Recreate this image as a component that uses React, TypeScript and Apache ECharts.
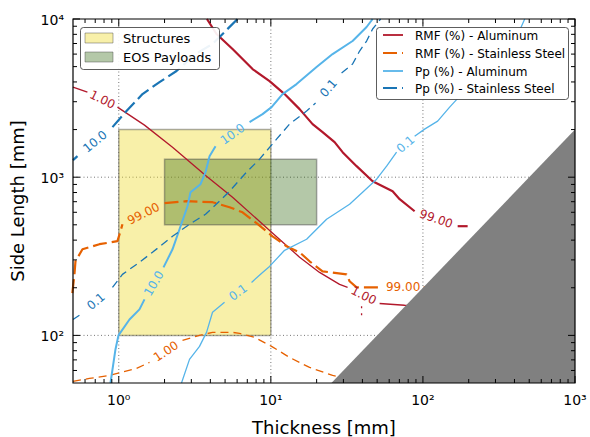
import React, { useEffect, useRef } from 'react';
import * as echarts from 'echarts';

// ---- Axes -------------------------------------------------------------
const thicknessRange = [0.5, 1000];
const sideLengthRange = [50, 10000];
const xDecades = [1, 10, 100, 1000];
const xDecadeLabels = ['10⁰', '10¹', '10²', '10³'];
const yDecades = [100, 1000, 10000];
const yDecadeLabels = ['10²', '10³', '10⁴'];
const minorMultiples = [2, 3, 4, 5, 6, 7, 8, 9];

// ---- Design envelopes: [thickness min, side min, thickness max, side max]
const structuresBox = [1, 100, 10, 2000];
const eosPayloadsBox = [2, 500, 20, 1300];

// Region where the side length is below twice the thickness
const infeasibleRegion = [[25, 50], [1000, 2000], [1000, 50]];

// ---- Contour lines [thickness mm, side length mm]; gaps hold the labels
const rmfAluminum1 = [
  [[0.5, 3712], [0.622, 3451]],
  [[0.98, 2773], [1.476, 2134], [2.256, 1548], [3.776, 1015], [5.598, 747], [10.11, 449],
   [15.45, 312], [20.91, 250], [28.31, 210], [31.96, 201]],
  [[51.9, 159], [75.8, 155], [95, 154]],
];
const rmfAluminum1Islets = [
  [[39.5, 152.6], [39.5, 148.2]],
  [[39.5, 137.8], [39.5, 134]],
];
const rmfAluminum99 = [
  [[3.8, 10000], [4.393, 8036], [5.598, 6458], [7.58, 4826], [9.804, 4052], [12.31, 3352],
   [15.45, 2694], [18.81, 2165], [21.88, 1927], [26.25, 1665], [29.63, 1439], [36.63, 1174],
   [46.69, 943], [63.2, 815], [70.3, 726], [88.2, 609]],
  [[169.2, 490], [196.8, 490]],
];
const rmfSteel1 = [
  [[0.5, 51.2], [0.641, 53.4], [0.869, 55.8], [1.307, 61.8], [1.592, 67.5]],
  [[2.625, 93], [3.396, 100], [4.135, 104.5], [5.598, 104.5], [6.226, 103], [7.813, 97.1],
   [10.11, 85.2], [13.27, 72.6], [17.97, 62.7], [25.47, 55.8], [30, 54]],
];
const rmfSteel99 = [
  [[0.495, 185], [0.511, 243], [0.519, 294], [0.577, 350], [0.746, 377], [0.98, 394],
   [1.026, 455], [1.057, 504]],
  [[1.999, 685], [2.789, 705], [4.135, 695], [5.35, 646], [6.514, 600], [8.053, 512],
   [10.26, 423], [12.69, 366], [15.45, 335], [17.97, 294], [21.88, 254], [31.48, 243],
   [32.94, 220], [36.63, 201], [54.3, 201]],
  [[101, 201], [139, 201]],
];
const ppAluminum01 = [
  [[2.585, 50], [2.918, 70.5], [3.396, 85.2], [3.776, 104.5], [4.135, 140], [4.96, 162]],
  [[7.465, 216], [8.818, 250], [9.804, 273], [12.31, 345], [17.18, 405], [23.25, 542],
   [32.94, 675], [40.11, 804], [49.59, 971], [57.7, 1174], [67.1, 1439]],
  [[88.2, 1817], [102.6, 2013], [125, 2262], [149.9, 2773], [179.7, 3352], [236, 3878],
   [334.5, 4826], [466.9, 10000]],
];
const ppAluminum10 = [
  [[0.882, 50], [0.951, 81.5], [0.995, 100], [1.176, 126], [1.368, 146], [1.476, 169]],
  [[1.968, 269], [2.256, 350], [2.508, 469], [2.831, 655], [2.963, 804], [3.448, 903],
   [3.719, 1076], [3.952, 1358], [4.327, 1571]],
  [[7.242, 2229], [8.818, 2505], [10.11, 2773], [11.94, 3352], [14.76, 3878], [19.98, 4969],
   [25.47, 6004], [34.47, 7258], [42.62, 8901], [46.69, 10000]],
];
const ppSteel01 = [
  [[0.5, 126], [0.551, 134]],
  [[0.909, 201], [1.057, 243], [1.368, 290], [1.666, 335], [2.256, 423], [2.918, 504],
   [3.719, 583], [4.598, 705], [5.35, 815], [6.92, 1076], [8.427, 1300], [10.9, 1740],
   [13.27, 2165], [17.18, 2617], [19.68, 2940]],
  [[29.18, 4551], [34.47, 5190], [38.33, 6273], [42.62, 7258], [46.69, 8643], [52.7, 10000]],
];
const ppSteel10 = [
  [[0.5, 1281], [0.535, 1358]],
  [[0.909, 2073], [1.124, 2617], [1.432, 3352], [1.853, 3993], [2.397, 4688], [3.196, 6004],
   [4.135, 6946], [5.035, 8397], [6.04, 10000]],
];

// ---- Styling ----------------------------------------------------------
const CRIMSON = '#B2182B';
const ORANGE = '#E66101';
const SKY = '#56B4E9';
const BLUE = '#1A75B5';
const YELLOW = 'rgba(238,218,40,0.4)';
const GREEN = 'rgba(35,94,0,0.34)';
const BOX_EDGE = 'rgba(70,70,70,0.45)';
const FONT = 'DejaVu Sans';
const THICK_DASH = [14, 5];
const THIN_DASH = [8, 5];
const THICK = 2.2;
const THIN = 1.3;

const contours = [
  { segments: rmfAluminum1, text: '1.00', color: CRIMSON, width: THIN, dash: 'solid' as any },
  { segments: rmfAluminum99, text: '99.00', color: CRIMSON, width: THICK, dash: 'solid' as any },
  { segments: rmfSteel1, text: '1.00', color: ORANGE, width: THIN, dash: THIN_DASH },
  { segments: rmfSteel99, text: '99.00', color: ORANGE, width: THICK, dash: THICK_DASH },
  { segments: ppAluminum01, text: '0.1', color: SKY, width: THIN, dash: 'solid' as any },
  { segments: ppAluminum10, text: '10.0', color: SKY, width: 2, dash: 'solid' as any },
  { segments: ppSteel01, text: '0.1', color: BLUE, width: THIN, dash: THIN_DASH },
  { segments: ppSteel10, text: '10.0', color: BLUE, width: THICK, dash: THICK_DASH },
];

function minorValues(decades: number[], range: number[]) {
  const bases = [decades[0] / 10, ...decades];
  const out: number[] = [];
  bases.forEach((b) => minorMultiples.forEach((m) => {
    const v = b * m;
    if (v > range[0] && v < range[1]) out.push(v);
  }));
  return out;
}

function buildOption(): any {
  const series: any[] = [];

  // dotted decade grid
  series.push({
    type: 'custom',
    silent: true,
    z: 1,
    data: [[thicknessRange[0], sideLengthRange[0]]],
    renderItem: (params: any, api: any) => {
      const cs = params.coordSys;
      const L = cs.x, T = cs.y, R = cs.x + cs.width, B = cs.y + cs.height;
      const els: any[] = [];
      const st = { stroke: '#777', lineWidth: 1, lineDash: [1, 2.5] };
      xDecades.forEach((v) => {
        const px = api.coord([v, sideLengthRange[0]])[0];
        if (px > L + 1 && px < R - 1) els.push({ type: 'line', shape: { x1: px, y1: T, x2: px, y2: B }, style: st });
      });
      yDecades.forEach((v) => {
        const py = api.coord([thicknessRange[0], v])[1];
        if (py > T + 1 && py < B - 1) els.push({ type: 'line', shape: { x1: L, y1: py, x2: R, y2: py }, style: st });
      });
      return { type: 'group', children: els };
    },
  });

  // design envelopes
  series.push({
    type: 'custom',
    silent: true,
    z: 2,
    data: [structuresBox, eosPayloadsBox],
    encode: { x: [0, 2], y: [1, 3] },
    renderItem: (params: any, api: any) => {
      const p0 = api.coord([api.value(0), api.value(1)]);
      const p1 = api.coord([api.value(2), api.value(3)]);
      return {
        type: 'rect',
        shape: {
          x: Math.min(p0[0], p1[0]), y: Math.min(p0[1], p1[1]),
          width: Math.abs(p1[0] - p0[0]), height: Math.abs(p1[1] - p0[1]),
        },
        style: { fill: params.dataIndex === 0 ? YELLOW : GREEN, stroke: BOX_EDGE, lineWidth: 1.5 },
      };
    },
  });

  // contour lines
  contours.forEach((c) => {
    c.segments.forEach((seg) => {
      series.push({
        type: 'line',
        data: seg,
        symbol: 'none',
        silent: true,
        clip: true,
        z: 3,
        lineStyle: { color: c.color, width: c.width, type: c.dash, cap: 'butt' },
      });
    });
  });
  rmfAluminum1Islets.forEach((seg) => {
    series.push({
      type: 'line', data: seg, symbol: 'none', silent: true, clip: true, z: 3,
      lineStyle: { color: CRIMSON, width: THIN },
    });
  });

  // contour labels sit in the gaps between consecutive segments
  const labelGaps: number[][] = [];
  const labelMeta: { text: string; color: string }[] = [];
  contours.forEach((c) => {
    for (let i = 0; i < c.segments.length - 1; i++) {
      const a = c.segments[i][c.segments[i].length - 1];
      const b = c.segments[i + 1][0];
      labelGaps.push([a[0], a[1], b[0], b[1]]);
      labelMeta.push({ text: c.text, color: c.color });
    }
  });

  // excluded region
  series.push({
    type: 'custom',
    silent: true,
    z: 4,
    data: [infeasibleRegion[0]],
    renderItem: (_params: any, api: any) => ({
      type: 'polygon',
      shape: { points: infeasibleRegion.map((p) => api.coord(p)) },
      style: { fill: '#808080' },
    }),
  });

  series.push({
    type: 'custom',
    silent: true,
    z: 5,
    data: labelGaps,
    encode: { x: [0, 2], y: [1, 3] },
    renderItem: (params: any, api: any) => {
      const a = api.coord([api.value(0), api.value(1)]);
      const b = api.coord([api.value(2), api.value(3)]);
      const meta = labelMeta[params.dataIndex];
      let ang = Math.atan2(-(b[1] - a[1]), b[0] - a[0]);
      if (ang > Math.PI / 2) ang -= Math.PI;
      if (ang < -Math.PI / 2) ang += Math.PI;
      return {
        type: 'text',
        x: (a[0] + b[0]) / 2,
        y: (a[1] + b[1]) / 2,
        rotation: ang,
        style: {
          text: meta.text, fill: meta.color, fontSize: 12, fontFamily: FONT,
          align: 'center', verticalAlign: 'middle',
        },
      };
    },
  });

  // ticks, tick labels and frame
  series.push({
    type: 'custom',
    silent: true,
    z: 6,
    data: [[thicknessRange[0], sideLengthRange[0]]],
    renderItem: (params: any, api: any) => {
      const cs = params.coordSys;
      const L = cs.x, T = cs.y, R = cs.x + cs.width, B = cs.y + cs.height;
      const els: any[] = [];
      const tickStyle = { stroke: '#000', lineWidth: 1 };
      const xTick = (v: number, len: number) => {
        const px = api.coord([v, sideLengthRange[0]])[0];
        els.push({ type: 'line', shape: { x1: px, y1: B, x2: px, y2: B - len }, style: tickStyle });
        els.push({ type: 'line', shape: { x1: px, y1: T, x2: px, y2: T + len }, style: tickStyle });
        return px;
      };
      const yTick = (v: number, len: number) => {
        const py = api.coord([thicknessRange[0], v])[1];
        els.push({ type: 'line', shape: { x1: L, y1: py, x2: L + len, y2: py }, style: tickStyle });
        els.push({ type: 'line', shape: { x1: R, y1: py, x2: R - len, y2: py }, style: tickStyle });
        return py;
      };
      minorValues(xDecades, thicknessRange).forEach((v) => xTick(v, 4));
      minorValues(yDecades, sideLengthRange).forEach((v) => yTick(v, 4));
      xDecades.forEach((v, i) => {
        const px = xTick(v, 7);
        els.push({
          type: 'text', x: px, y: B + 17,
          style: { text: xDecadeLabels[i], fill: '#000', fontSize: 14, fontFamily: FONT, align: 'center', verticalAlign: 'middle' },
        });
      });
      yDecades.forEach((v, i) => {
        const py = yTick(v, 7);
        els.push({
          type: 'text', x: L - 9, y: py + 1,
          style: { text: yDecadeLabels[i], fill: '#000', fontSize: 14, fontFamily: FONT, align: 'right', verticalAlign: 'middle' },
        });
      });
      els.push({
        type: 'rect', shape: { x: L, y: T, width: R - L, height: B - T },
        style: { fill: 'none', stroke: '#000', lineWidth: 1.2 },
      });
      return { type: 'group', children: els };
    },
  });

  const text = (t: string, x: number, y: number, size: number, extra: any = {}) => ({
    type: 'text', x, y, z: 100,
    style: { text: t, fill: '#000', fontSize: size, fontFamily: FONT, verticalAlign: 'middle', ...extra },
  });

  const legendLines = [
    { label: 'RMF (%) - Aluminum', color: CRIMSON, dash: null },
    { label: 'RMF (%) - Stainless Steel', color: ORANGE, dash: THICK_DASH },
    { label: 'Pp (%) - Aluminum', color: SKY, dash: null },
    { label: 'Pp (%) - Stainless Steel', color: BLUE, dash: THICK_DASH },
  ];
  const legendRows = [35, 53, 71, 88];

  const graphic: any[] = [
    // area legend
    { type: 'rect', z: 100, shape: { x: 80.5, y: 27.5, width: 139, height: 42, r: 3 },
      style: { fill: 'rgba(255,255,255,0.92)', stroke: '#333', lineWidth: 0.8 } },
    { type: 'rect', z: 101, shape: { x: 85, y: 33, width: 28, height: 10 },
      style: { fill: YELLOW, stroke: BOX_EDGE, lineWidth: 1 } },
    { type: 'rect', z: 101, shape: { x: 85, y: 52, width: 28, height: 10 },
      style: { fill: GREEN, stroke: BOX_EDGE, lineWidth: 1 } },
    text('Structures', 123, 38.5, 13),
    text('EOS Payloads', 123, 57.5, 13),
    // line legend
    { type: 'rect', z: 100, shape: { x: 376.5, y: 27.5, width: 192, height: 72, r: 3 },
      style: { fill: '#fff', stroke: '#333', lineWidth: 0.8 } },
    ...legendLines.map((l, i) => ({
      type: 'line', z: 101,
      shape: { x1: 383, y1: legendRows[i], x2: 403, y2: legendRows[i] },
      style: { stroke: l.color, lineWidth: 1.8, lineDash: l.dash || undefined },
    })),
    ...legendLines.map((l, i) => text(l.label, 415, legendRows[i] + 0.5, 12)),
    // axis titles
    text('Thickness [mm]', 324, 427, 18, { align: 'center' }),
    { type: 'text', x: 17, y: 201, rotation: Math.PI / 2, z: 100,
      style: { text: 'Side Length [mm]', fill: '#000', fontSize: 18, fontFamily: FONT, align: 'center', verticalAlign: 'middle' } },
  ];

  return {
    animation: false,
    backgroundColor: '#fff',
    grid: { left: 73, top: 19, width: 502, height: 364, show: false },
    xAxis: {
      type: 'log', logBase: 10, min: thicknessRange[0], max: thicknessRange[1],
      axisLine: { show: false }, axisTick: { show: false }, axisLabel: { show: false }, splitLine: { show: false },
    },
    yAxis: {
      type: 'log', logBase: 10, min: sideLengthRange[0], max: sideLengthRange[1],
      axisLine: { show: false }, axisTick: { show: false }, axisLabel: { show: false }, splitLine: { show: false },
    },
    series,
    graphic,
  };
}

export default function App() {
  const ref = useRef<HTMLDivElement>(null);
  useEffect(() => {
    const chart = echarts.init(ref.current as HTMLDivElement, null, { renderer: 'svg' });
    chart.setOption(buildOption());
    return () => chart.dispose();
  }, []);
  return (
    <div
      ref={ref}
      style={{ position: 'fixed', left: 0, top: 0, width: 590, height: 437, background: '#fff' }}
    />
  );
}
